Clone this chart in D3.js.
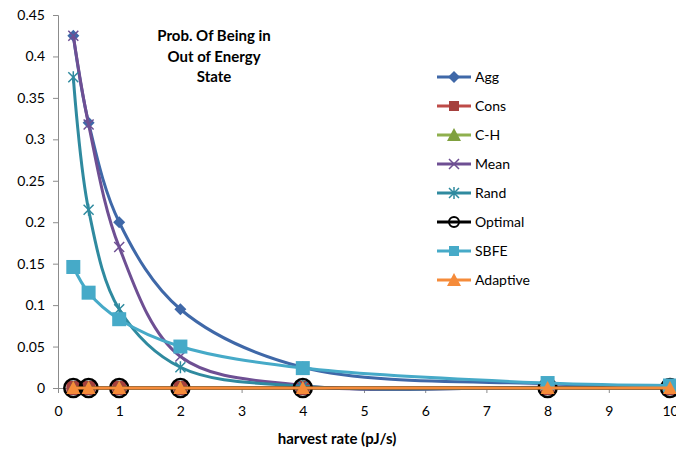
<!DOCTYPE html>
<html>
<head>
<meta charset="utf-8">
<script src="https://cdn.jsdelivr.net/npm/d3@7"></script>
<style>
  body { margin: 0; background: #fff; }
  text { font-family: Lato, "Open Sans", sans-serif; }
</style>
</head>
<body>
<div id="chart"></div>
<script>
// harvest rates (pJ/s)
var rates = [0.25, 0.5, 1, 2, 4, 8, 10];

var agg      = [0.425, 0.32, 0.2, 0.095, 0.025, 0.005, 0.002];
var cons     = [0, 0, 0, 0, 0, 0, 0];
var ch       = [0, 0, 0, 0, 0, 0, 0];
var mean     = [0.425, 0.318, 0.17, 0.038, 0.003, 0.0008, 0.0002];
var rand     = [0.375, 0.215, 0.095, 0.025, 0.002, 0.0005, 0.0001];
var optimal  = [0, 0, 0, 0, 0, 0, 0];
var sbfe     = [0.146, 0.115, 0.083, 0.05, 0.024, 0.006, 0.003];
var adaptive = [0, 0, 0, 0, 0, 0, 0];

var seriesNames = ["Agg", "Cons", "C-H", "Mean", "Rand", "Optimal", "SBFE", "Adaptive"];
var seriesValues = [agg, cons, ch, mean, rand, optimal, sbfe, adaptive];

var xTicks = [0, 1, 2, 3, 4, 5, 6, 7, 8, 9, 10];
var yTicks = [0, 0.05, 0.1, 0.15, 0.2, 0.25, 0.3, 0.35, 0.4, 0.45];

var titleLines = ["Prob. Of Being in", "Out of Energy", "State"];
var xTitle = "harvest rate (pJ/s)";

// styling per series
var styles = {
	"Agg":      {line: "#3F68A8", fill: "#3F68A8", marker: "diamond"},
	"Cons":     {line: "#BE4B48", fill: "#A5403D", marker: "square"},
	"C-H":      {line: "#8FB04E", fill: "#7FA03E", marker: "triangle"},
	"Mean":     {line: "#6E4F93", fill: "#6E4F93", marker: "x"},
	"Rand":     {line: "#2F8A9F", fill: "#2F8A9F", marker: "star"},
	"Optimal":  {line: "#000000", fill: "none", marker: "circle"},
	"SBFE":     {line: "#46AAC8", fill: "#46AAC8", marker: "square"},
	"Adaptive": {line: "#F58B3A", fill: "#F58B3A", marker: "triangle"}
};

var width = 676, height = 451;

var svg = d3.select("#chart").append("svg")
	.attr("width", width)
	.attr("height", height);

var x = d3.scaleLinear().domain([0, 10]).range([58, 670]);
var y = d3.scaleLinear().domain([0, 0.45]).range([388, 15]);

// axes
var yAxis = svg.append("g")
	.attr("transform", "translate(58,0)")
	.call(d3.axisLeft(y).tickValues(yTicks).tickSize(5).tickPadding(8)
		.tickFormat(function(d) { return d3.format("")(+d.toFixed(2)); }));
yAxis.select(".domain").attr("stroke", "#8c8c8c");
yAxis.selectAll(".tick line").attr("stroke", "#8c8c8c");
yAxis.selectAll("text").attr("font-size", 14).attr("fill", "#000")
	.style("font-family", "Lato, 'Open Sans', sans-serif");

var xAxis = svg.append("g")
	.attr("transform", "translate(0,388)")
	.call(d3.axisBottom(x).tickValues(xTicks).tickSize(5).tickPadding(13));
xAxis.select(".domain").attr("stroke", "#8c8c8c");
xAxis.selectAll(".tick line").attr("stroke", "#8c8c8c");
xAxis.selectAll("text").attr("font-size", 14).attr("fill", "#000")
	.style("font-family", "Lato, 'Open Sans', sans-serif");

svg.append("text")
	.attr("x", 337)
	.attr("y", 444)
	.attr("text-anchor", "middle")
	.attr("font-size", 15)
	.attr("font-weight", "bold")
	.text(xTitle);

svg.append("g").selectAll("text")
	.data(titleLines)
	.enter().append("text")
		.attr("x", 214)
		.attr("y", function(d, i) { return 41 + i * 20.5; })
		.attr("text-anchor", "middle")
		.attr("font-size", 15)
		.attr("font-weight", "bold")
		.text(function(d) { return d; });

var line = d3.line()
	.x(function(d) { return x(d[0]); })
	.y(function(d) { return y(d[1]); })
	.curve(d3.curveCatmullRom.alpha(0.5));

function drawMarker(g, type, s) {
	if(type === "diamond") {
		g.append("path").attr("d", "M0,-6L6,0L0,6L-6,0Z").attr("fill", s.fill);
	} else if(type === "square") {
		g.append("rect").attr("x", -7).attr("y", -7).attr("width", 14).attr("height", 14)
			.attr("fill", s.fill);
	} else if(type === "triangle") {
		g.append("path").attr("d", "M0,-7L7,6L-7,6Z").attr("fill", s.fill);
	} else if(type === "x") {
		g.append("path").attr("d", "M-5,-5L5,5M-5,5L5,-5")
			.attr("stroke", s.fill).attr("stroke-width", 1.5);
	} else if(type === "star") {
		g.append("path").attr("d", "M-5,-5L5,5M-5,5L5,-5M0,-6L0,6")
			.attr("stroke", s.fill).attr("stroke-width", 1.5);
	} else if(type === "circle") {
		g.append("circle").attr("r", 9).attr("fill", "none")
			.attr("stroke", "#000").attr("stroke-width", 2.5);
	}
}

// series
seriesNames.forEach(function(name, i) {
	var s = styles[name];
	var pts = rates.map(function(r, j) { return [r, seriesValues[i][j]]; });
	var g = svg.append("g").attr("class", "series");
	g.append("path")
		.datum(pts)
		.attr("fill", "none")
		.attr("stroke", s.line)
		.attr("stroke-width", 3)
		.attr("d", line);
	pts.forEach(function(p) {
		var m = g.append("g").attr("transform", "translate(" + x(p[0]) + "," + y(p[1]) + ")");
		drawMarker(m, s.marker, s);
	});
});

// legend
var legend = svg.selectAll(".legend")
	.data(seriesNames)
	.enter().append("g")
		.attr("class", "legend")
		.attr("transform", function(d, i) { return "translate(437," + (77 + i * 29) + ")"; });

legend.append("line")
	.attr("x1", 0).attr("x2", 34)
	.attr("stroke", function(d) { return styles[d].line; })
	.attr("stroke-width", 3);

legend.each(function(d) {
	var m = d3.select(this).append("g").attr("transform", "translate(17,0)");
	drawMarker(m, styles[d].marker, styles[d]);
	if(styles[d].marker === "circle") m.select("circle").attr("r", 5).attr("stroke-width", 2);
	if(styles[d].marker === "square") m.select("rect").attr("x", -5).attr("y", -5).attr("width", 10).attr("height", 10);
});

legend.append("text")
	.attr("x", 38)
	.attr("dy", "0.35em")
	.attr("font-size", 14)
	.text(function(d) { return d; });
</script>
</body>
</html>
